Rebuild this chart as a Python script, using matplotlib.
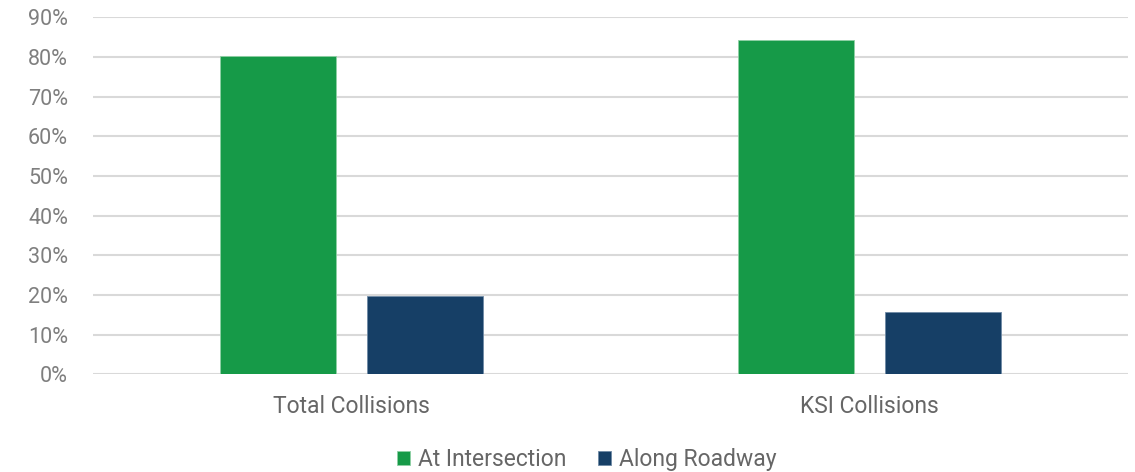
import matplotlib
matplotlib.use("Agg")
import matplotlib.pyplot as plt
import numpy as np
from matplotlib.ticker import FuncFormatter, MultipleLocator

categories = ["Total Collisions", "KSI Collisions"]
series_names = ["At Intersection", "Along Roadway"]
at_intersection = [80.3, 84.3]
along_roadway = [19.7, 15.7]
colors = ["#169A48", "#163F66"]

plt.rcParams["font.family"] = ["Roboto", "DejaVu Sans"]

fig = plt.figure(figsize=(11.35, 4.72), dpi=100)
ax = fig.add_axes([0.0819, 0.2066, 0.9119, 0.7564])

x = np.arange(len(categories))
width = 0.224
offset = 0.142
ax.bar(x - offset, at_intersection, width, color=colors[0], label=series_names[0],
       edgecolor="#8fd0a5", linewidth=0.6, zorder=3)
ax.bar(x + offset, along_roadway, width, color=colors[1], label=series_names[1],
       edgecolor="#6f8aa6", linewidth=0.6, zorder=3)

ax.set_xlim(-0.5, 1.5)
ax.set_ylim(0, 90)
ax.yaxis.set_major_locator(MultipleLocator(10))
ax.yaxis.set_major_formatter(FuncFormatter(lambda v, p: f"{v:.0f}%"))
ax.grid(axis="y", color="#d9d9d9", linewidth=1.5, zorder=0)
ax.set_axisbelow(True)
for s in ax.spines.values():
    s.set_visible(False)
ax.tick_params(axis="both", length=0)
ax.tick_params(axis="y", labelsize=15.5, labelcolor="#7f7f7f", pad=18)
ax.tick_params(axis="x", labelsize=16.5, labelcolor="#666666", pad=14.5)
ax.set_xticks(x)
ax.set_xticklabels(categories)

leg = fig.legend(loc="center", bbox_to_anchor=(0.517, 0.026), ncol=2, frameon=False,
                 fontsize=16.5, handlelength=0.6, handleheight=0.6, handletextpad=0.35,
                 columnspacing=1.35, labelcolor="#666666")

fig.savefig("out.png", dpi=100)
